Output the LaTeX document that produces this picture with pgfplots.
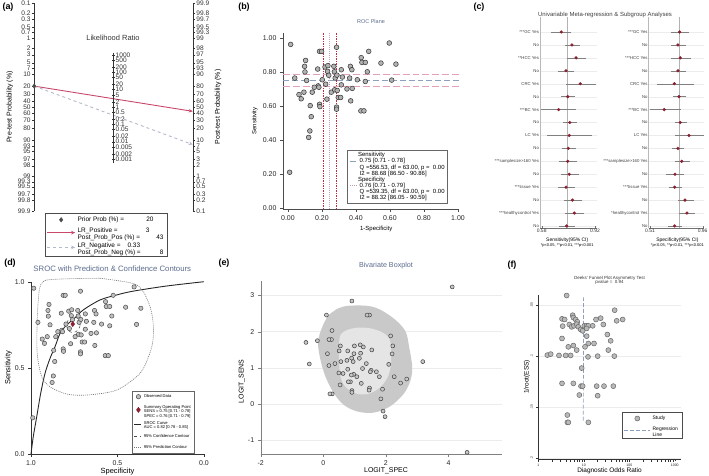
\documentclass[border=0pt]{standalone}
\usepackage{fontspec}
\setmainfont{Liberation Sans}
\usepackage{pgfplots}
\pgfplotsset{compat=1.18}
\usepackage{pgfplotstable}
\usetikzlibrary{arrows.meta}
\newcommand\fs[1]{\fontsize{#1}{#1}\selectfont}
\definecolor{roccol}{HTML}{5B6B8C}
\definecolor{lrpos}{HTML}{C8486A}
\definecolor{lrneg}{HTML}{B4B9CA}
\definecolor{dred}{HTML}{8B1E2E}
\definecolor{sensln}{HTML}{8CA0C0}
\definecolor{pinkln}{HTML}{E4A0B8}
\definecolor{redln}{HTML}{C8283C}
\definecolor{specln}{HTML}{C4A0B8}
\pgfplotsset{
  every axis/.append style={scale only axis, anchor=south west, /pgf/number format/assume math mode=true},
  shortline/.style={legend image code/.code={\draw[##1] (0bp,0bp) -- (#1,0bp);}},
  markat/.style={legend image code/.code={\draw[##1] plot coordinates {(#1,0bp)};}},
}
\pgfplotstableread{
u s
0.016 0.962
0.010 0.210
0.040 0.764
0.065 0.667
0.078 0.642
0.104 0.868
0.098 0.833
0.100 0.800
0.110 0.750
0.094 0.681
0.131 0.602
0.137 0.537
0.129 0.453
0.122 0.415
0.143 0.681
0.175 0.817
0.178 0.718
0.182 0.710
0.186 0.921
0.198 0.921
0.186 0.610
0.188 0.596
0.202 0.754
0.218 0.829
0.235 0.837
0.233 0.803
0.222 0.728
0.229 0.640
0.255 0.681
0.270 0.833
0.273 0.801
0.278 0.764
0.286 0.945
0.288 0.781
0.275 0.695
0.290 0.691
0.296 0.650
0.310 0.650
0.286 0.593
0.286 0.581
0.314 0.813
0.314 0.724
0.347 0.700
0.363 0.764
0.367 0.833
0.376 0.813
0.378 0.703
0.369 0.630
0.408 0.754
0.429 0.571
0.447 0.571
0.431 0.884
0.435 0.856
0.455 0.856
0.475 0.921
0.467 0.801
0.455 0.744
0.547 0.852
0.596 0.970
0.610 0.752
0.635 0.846
0.155 0.710
0.320 0.770
0.240 0.780
}\studies
\pgfplotstableread{
r e lo hi
0 0.705 0.650 0.761
-1 0.773 0.739 0.818
-2 0.799 0.750 0.856
-3 0.735 0.693 0.778
-4 0.826 0.744 0.916
-5 0.746 0.712 0.782
-6 0.688 0.586 0.793
-7 0.759 0.727 0.797
-8 0.756 0.623 0.890
-9 0.750 0.718 0.793
-10 0.746 0.697 0.797
-11 0.756 0.712 0.807
-12 0.735 0.693 0.782
-13 0.776 0.729 0.831
-14 0.788 0.735 0.844
-15 0.739 0.697 0.784
}\forestsens
\pgfplotstableread{
r e lo hi
0 0.763 0.701 0.832
-1 0.749 0.701 0.806
-2 0.769 0.698 0.846
-3 0.749 0.704 0.803
-4 0.718 0.578 0.872
-5 0.758 0.718 0.806
-6 0.632 0.519 0.761
-7 0.769 0.732 0.815
-8 0.843 0.735 0.960
-9 0.749 0.709 0.792
-10 0.781 0.732 0.838
-11 0.724 0.661 0.786
-12 0.721 0.681 0.769
-13 0.809 0.761 0.872
-14 0.826 0.772 0.883
-15 0.721 0.675 0.769
}\forestspec
\pgfplotstableread{
dor y
4.20 0.0405
1.58 0.0989
1.87 0.0979
2.85 0.0992
4.00 0.0992
5.14 0.0992
3.32 0.0634
3.80 0.0640
5.69 0.0598
5.89 0.0621
6.63 0.0640
7.21 0.0663
3.43 0.0705
4.81 0.0689
5.41 0.0712
6.09 0.0702
6.97 0.0686
7.58 0.0712
8.54 0.0738
9.44 0.0751
10.27 0.0702
11.56 0.0702
12.58 0.0702
15.67 0.0702
18.54 0.0640
23.48 0.0627
26.87 0.0689
47.7 0.0549
52.8 0.0653
71.5 0.0640
11.56 0.0728
11.56 0.0803
12.58 0.0875
10.63 0.0908
12.37 0.1006
16.76 0.0875
20.17 0.0999
32.9 0.0787
38.95 0.0849
34.6 0.0940
46.9 0.0999
3.32 0.0826
4.57 0.0908
5.89 0.0895
6.97 0.0940
8.98 0.1116
3.32 0.1266
5.89 0.1266
8.68 0.1293
9.44 0.1293
19.18 0.1293
27.8 0.1293
44.6 0.1293
7.97 0.1380
20.17 0.1387
4.35 0.1576
4.35 0.1648
4.57 0.1648
12.58 0.1648
}\deeks
\begin{document}
\begin{tikzpicture}
\useasboundingbox (0bp,0bp) rectangle (709bp,476bp);
% ---------------- panel labels
\node[font=\bfseries\fs{9}] at (8bp,469bp) {(a)};
\node[font=\bfseries\fs{9}] at (244bp,469bp) {(b)};
\node[font=\bfseries\fs{9}] at (479bp,469bp) {(c)};
\node[font=\bfseries\fs{9}] at (10bp,213bp) {(d)};
\node[font=\bfseries\fs{9}] at (224bp,213bp) {(e)};
\node[font=\bfseries\fs{9}] at (512bp,211bp) {(f)};
% ---------------- (a) Fagan nomogram
\begin{axis}[at={(34.3bp,265bp)}, width=158.4bp, height=208bp,
  xmin=0, xmax=1, ymin=-6.9068, ymax=6.9068, y dir=reverse, clip=false,
  axis x line=none, axis y line*=left, ytick pos=left, tick align=outside,
  major tick length=2.5bp, tick style={black!80}, axis line style={black!80},
  ytick={-6.9068,-6.2126,-5.8061,-5.2933,-4.9548,-4.5951,-3.8918,-3.4761,-2.9444,-2.5867,-2.1972,-1.3863,-0.8473,-0.4055,0,0.4055,0.8473,1.3863,2.1972,2.5867,2.9444,3.4761,3.8918,4.5951,4.9548,5.2933,5.8061,6.2126,6.9068},
  yticklabels={0.1,0.2,0.3,0.5,0.7,1,2,3,5,7,10,20,30,40,50,60,70,80,90,93,95,97,98,99,99.3,99.5,99.7,99.8,99.9},
  yticklabel style={font=\fs{6.6}, inner sep=1bp, black!80},
  ylabel={Pre-test Probability (\%)}, ylabel style={font=\fs{7}, at={(axis description cs:-0.155,0.5)}, anchor=center},
  legend style={at={(0.0676,-0.0096)}, anchor=north west, font=\fontsize{6.5}{7}\selectfont, draw=black!70, inner sep=1.5bp, row sep=0.8bp},
  legend cell align=left]
\addplot[only marks, mark=diamond*, mark size=2.3, color=black!70, markat=14bp] coordinates {(0,-1.3863)};
\addlegendentry{\makebox[64bp][l]{Prior Prob (\%) =}\makebox[12bp][r]{20}}
\addplot[lrpos, line width=0.9, -{Stealth[length=4bp,width=3.5bp]}, shortline=28bp] coordinates {(0,-1.3863) (1,0.2877)};
\addlegendentry{\begin{tabular}{@{}l@{}}\makebox[64bp][l]{LR\_Positive =}\makebox[8bp][r]{3}\\\makebox[76bp][l]{Post\_Prob\_Pos (\%) =}\makebox[10bp][r]{43}\end{tabular}}
\addplot[lrneg, dashed, line width=0.9, -{Stealth[length=4bp,width=3.5bp]}, shortline=28bp] coordinates {(0,-1.3863) (1,2.4950)};
\addlegendentry{\begin{tabular}{@{}l@{}}\makebox[50bp][l]{LR\_Negative =}0.33\\\makebox[76bp][l]{Post\_Prob\_Neg (\%) =}\makebox[10bp][r]{8}\end{tabular}}
\end{axis}
\begin{axis}[at={(34.3bp,265bp)}, width=158.4bp, height=208bp,
  xmin=0, xmax=1, ymin=-6.9068, ymax=6.9068, y dir=reverse,
  axis x line=none, axis y line*=right, ytick pos=right, yticklabel pos=right, tick align=outside,
  major tick length=2.5bp, tick style={black!80}, axis line style={black!80},
  ytick={-6.9068,-6.2126,-5.8061,-5.2933,-4.9548,-4.5951,-3.8918,-3.4761,-2.9444,-2.5867,-2.1972,-1.3863,-0.8473,-0.4055,0,0.4055,0.8473,1.3863,2.1972,2.5867,2.9444,3.4761,3.8918,4.5951,4.9548,5.2933,5.8061,6.2126,6.9068},
  yticklabels={99.9,99.8,99.7,99.5,99.3,99,98,97,95,93,90,80,70,60,50,40,30,20,10,7,5,3,2,1,0.7,0.5,0.3,0.2,0.1},
  yticklabel style={font=\fs{6.6}, inner sep=1bp, black!80},
  ylabel={Post-test Probability (\%)}, ylabel style={font=\fs{7}, at={(axis description cs:1.16,0.5)}, anchor=center}]
\end{axis}
\begin{axis}[at={(112.5bp,313bp)}, width=1bp, height=110bp,
  xmin=0, xmax=1, ymin=-3.58, ymax=3.72, y dir=reverse,
  axis x line=none, axis y line*=right, ytick pos=right, yticklabel pos=right, tick align=center,
  major tick length=3bp, tick style={black!80}, axis line style={black!80},
  ytick={-3.4539,-3.1073,-2.6492,-2.3026,-1.9560,-1.4979,-1.1513,-0.8047,-0.3466,0,0.3466,0.8047,1.1513,1.4979,1.9560,2.3026,2.6492,3.1073,3.4539},
  yticklabels={1000,500,200,100,50,20,10,5,2,1,0.5,0.2,0.1,0.05,0.02,0.01,0.005,0.002,0.001},
  yticklabel style={font=\fs{6.6}, inner sep=0.5bp, black!80},
  title={Likelihood Ratio}, title style={font=\fs{7.5}, black!80, at={(axis description cs:0.5,1)}, anchor=south, yshift=3bp}]
\end{axis}
% ---------------- (b) ROC plane
\begin{axis}[at={(283bp,267bp)}, width=176bp, height=176bp,
  xmin=-0.029, xmax=1.006, ymin=-0.006, ymax=1.029,
  axis x line*=bottom, axis y line*=left, tick pos=left, tick align=outside,
  major tick length=3bp, axis line style={black!70}, tick style={black!70},
  xtick={0,0.2,0.4,0.6,0.8,1}, ytick={0,0.2,0.4,0.6,0.8,1},
  tick label style={font=\fs{7}, black!85, /pgf/number format/fixed, /pgf/number format/fixed zerofill, /pgf/number format/precision=2},
  xlabel={1-Specificity}, xlabel style={font=\fs{6}, at={(axis description cs:0.53,-0.115)}, anchor=center},
  ylabel={Sensitivity}, ylabel style={font=\fs{6}, at={(axis description cs:-0.16,0.5)}, anchor=center},
  title={ROC Plane}, title style={font=\fs{5.5}, roccol, at={(axis description cs:0.5,1)}, anchor=south, yshift=0bp},
  legend style={at={(0.364,0.335)}, anchor=north west, font=\fontsize{6}{6.6}\selectfont, draw=black!60, inner xsep=2bp, inner ysep=2bp, row sep=0bp, nodes={inner ysep=0bp, inner xsep=1bp}},
  legend cell align=left]
\addplot[redln, line width=0.9, dash pattern=on 1.5pt off 1pt, forget plot] coordinates {(0.21,-0.006) (0.21,1.029)};
\addplot[redln, line width=0.9, dash pattern=on 1.5pt off 1pt, forget plot] coordinates {(0.285,-0.006) (0.285,1.029)};
\addplot[pinkln, line width=1, dash pattern=on 7pt off 3pt, forget plot] coordinates {(-0.029,0.714) (1.006,0.714)};
\addplot[pinkln, line width=1, dash pattern=on 7pt off 3pt, forget plot] coordinates {(-0.029,0.785) (1.006,0.785)};
\addlegendimage{empty legend}
\addlegendentry{\strut Sensitivity}
\addplot[sensln, line width=0.8, dash pattern=on 6pt off 3pt, shortline=7bp] coordinates {(-0.029,0.752) (1.006,0.752)};
\addlegendentry{\strut\ 0.75 [0.71 - 0.78]}
\addlegendimage{empty legend}
\addlegendentry{\strut\ Q =556.53, df = 63.00, p =\ \ 0.00}
\addlegendimage{empty legend}
\addlegendentry{\strut\ I2 = 88.68 [86.50 - 90.86]}
\addlegendimage{empty legend}
\addlegendentry{\strut Specificity}
\addplot[specln, line width=0.8, dash pattern=on 1pt off 1pt, shortline=7bp] coordinates {(0.241,-0.006) (0.241,1.029)};
\addlegendentry{\strut\ 0.76 [0.71 - 0.79]}
\addlegendimage{empty legend}
\addlegendentry{\strut\ Q =539.35, df = 63.00, p =\ \ 0.00}
\addlegendimage{empty legend}
\addlegendentry{\strut\ I2 = 88.32 [86.05 - 90.59]}
\addplot[only marks, mark=*, mark size=2.4, mark options={fill=gray!60, draw=black!80, line width=0.5}, forget plot] table[x=u,y=s]{\studies};
\end{axis}
% ---------------- (c) forest plots
\node[font=\fs{6}, black!75] at (605bp,461bp) {Univariable Meta-regression \& Subgroup Analyses};
\begin{axis}[at={(540.1bp,247.7bp)}, width=56.5bp, height=211.3bp,
  xmin=0.57, xmax=0.93, ymin=-15.18, ymax=1.16,
  axis x line*=bottom, axis y line*=left, xtick pos=bottom,
  y axis line style={gray!55, line width=1.2}, x axis line style={black!55, line width=0.4},
  xtick={0.58,0.92}, xticklabels={0.58,0.92}, xtick style={black!55}, major tick length=2bp,
  xticklabel style={font=\fs{5}, black!80, inner sep=1bp},
  ytick={0,-1,-2,-3,-4,-5,-6,-7,-8,-9,-10,-11,-12,-13,-14,-15},
  yticklabels={***GC Yes,No,**HCC Yes,No,CRC Yes,No,***BC Yes,No,LC Yes,No,***samplesize>160 Yes,No,***tissue Yes,No,***healthycontrol Yes,No},
  yticklabel style={font=\fs{4.3}, black!75, inner sep=1bp}, ytick style={draw=none},
  ymajorgrids, grid style={gray!15, line width=0.3},
  xlabel={{\fs{5}Sensitivity(95\% CI)}\\[0.5bp]*p<0.05, **p<0.01, ***p<0.001},
  xlabel style={font=\fs{4}, align=center, at={(axis description cs:0.48,0)}, anchor=north, yshift=-6.5bp}]
\addplot[gray!60, line width=1.2] coordinates {(0.746,-15.18) (0.746,1.16)};
\addplot[only marks, mark=*, mark size=1.4, color=dred,
  error bars/.cd, x dir=both, x explicit, error bar style={gray, line width=0.4}, error mark options={gray, mark size=1.3, line width=0.4}]
  table[x=e, y=r, x error plus expr=\thisrow{hi}-\thisrow{e}, x error minus expr=\thisrow{e}-\thisrow{lo}]{\forestsens};
\end{axis}
\begin{axis}[at={(648.8bp,247.7bp)}, width=55bp, height=211.3bp,
  xmin=0.50, xmax=0.97, ymin=-15.18, ymax=1.16,
  axis x line*=bottom, axis y line*=left, xtick pos=bottom,
  y axis line style={gray!55, line width=1.2}, x axis line style={black!55, line width=0.4},
  xtick={0.51,0.96}, xticklabels={0.51,0.96}, xtick style={black!55}, major tick length=2bp,
  xticklabel style={font=\fs{5}, black!80, inner sep=1bp},
  ytick={0,-1,-2,-3,-4,-5,-6,-7,-8,-9,-10,-11,-12,-13,-14,-15},
  yticklabels={***GC Yes,No,***HCC Yes,No,CRC Yes,No,***BC Yes,No,LC Yes,No,***samplesize>160 Yes,No,***tissue Yes,No,*healthycontrol Yes,No},
  yticklabel style={font=\fs{4.3}, black!75, inner sep=1bp}, ytick style={draw=none},
  ymajorgrids, grid style={gray!15, line width=0.3},
  xlabel={{\fs{5}Specificity(95\% CI)}\\[0.5bp]*p<0.05, **p<0.01, ***p<0.001},
  xlabel style={font=\fs{4}, align=center, at={(axis description cs:0.52,0)}, anchor=north, yshift=-6.5bp}]
\addplot[gray!60, line width=1.2] coordinates {(0.76,-15.18) (0.76,1.16)};
\addplot[only marks, mark=*, mark size=1.4, color=dred,
  error bars/.cd, x dir=both, x explicit, error bar style={gray, line width=0.4}, error mark options={gray, mark size=1.3, line width=0.4}]
  table[x=e, y=r, x error plus expr=\thisrow{hi}-\thisrow{e}, x error minus expr=\thisrow{e}-\thisrow{lo}]{\forestspec};
\end{axis}
% ---------------- (d) SROC
\begin{axis}[at={(31bp,22bp)}, width=173bp, height=172.3bp,
  xmin=0, xmax=1, ymin=0, ymax=1, clip=false,
  axis x line*=bottom, axis y line*=left, tick pos=left, tick align=outside,
  major tick length=3bp, axis line style={black!80}, tick style={black!80},
  xtick={0,0.5,1}, xticklabels={1.0,0.5,0.0}, ytick={0,0.5,1}, yticklabels={0.0,0.5,1.0},
  tick label style={font=\fs{7}, black!85},
  xlabel={Specificity}, xlabel style={font=\fs{7.5}, at={(axis description cs:0.5,-0.1)}, anchor=center},
  ylabel={Sensitivity}, ylabel style={font=\fs{7.5}, at={(axis description cs:-0.13,0.5)}, anchor=center},
  title={SROC with Prediction \& Confidence Contours}, title style={font=\fs{7.8}, roccol, at={(axis description cs:0.47,1)}, anchor=south, yshift=1bp},
  legend style={at={(0.5855,0.367)}, anchor=north west, font=\fontsize{4.1}{4.6}\selectfont, draw=black!60, inner xsep=1.5bp, inner ysep=1.5bp, row sep=2.2bp},
  legend cell align=left]
\addplot[only marks, mark=*, mark size=2.2, mark options={fill=gray!50, draw=black!70, line width=0.5}, markat=4bp] table[x=u,y=s]{\studies};
\addlegendentry{Observed Data}
\addplot[only marks, mark=diamond*, mark size=2.6, color=dred, markat=4bp] coordinates {(0.241,0.754)};
\addlegendentry{\begin{tabular}{@{}l@{}}Summary Operating Point\\SENS = 0.75 [0.71 - 0.78]\\SPEC = 0.76 [0.71 - 0.79]\end{tabular}}
\addplot[black!85, line width=0.9, smooth, shortline=7bp] coordinates {(0,0) (0.013,0.10) (0.033,0.216) (0.056,0.352) (0.081,0.468) (0.11,0.555) (0.139,0.623) (0.168,0.70) (0.206,0.749) (0.245,0.782) (0.302,0.836) (0.399,0.894) (0.495,0.923) (0.59,0.945) (0.784,0.975) (1.0,1.0)};
\addlegendentry{\begin{tabular}{@{}l@{}}SROC Curve\\AUC = 0.82 [0.78 - 0.85]\end{tabular}}
\addplot[black!70, line width=0.5, dashed, smooth, shortline=7bp] coordinates {(0.285,0.75) (0.273,0.785) (0.245,0.795) (0.217,0.78) (0.205,0.75) (0.217,0.715) (0.245,0.705) (0.273,0.72) (0.285,0.75)};
\addlegendentry{95\% Confidence Contour}
\addplot[black!55, line width=0.6, dash pattern=on 1pt off 1pt, smooth, shortline=7bp] coordinates {(0.399,1.02) (0.59,0.99) (0.649,0.942) (0.69,0.85) (0.707,0.75) (0.705,0.66) (0.685,0.58) (0.63,0.468) (0.495,0.371) (0.322,0.342) (0.206,0.348) (0.11,0.39) (0.062,0.449) (0.036,0.584) (0.036,0.778) (0.048,0.952) (0.07,1.0) (0.11,1.012) (0.25,1.018) (0.399,1.02)};
\addlegendentry{95\% Prediction Contour}
\end{axis}
% ---------------- (e) bivariate boxplot
\begin{axis}[at={(260.7bp,22bp)}, width=241bp, height=173.2bp,
  xmin=-2, xmax=5.7, ymin=-1.37, ymax=3.4,
  axis x line*=bottom, axis y line*=left, tick pos=left, tick align=outside,
  major tick length=3bp, axis line style={gray}, tick style={gray},
  xtick={-2,0,2,4}, ytick={-1,0,1,2,3},
  tick label style={font=\fs{7}, black!85},
  ymajorgrids, grid style={gray!15, line width=0.4},
  xlabel={LOGIT\_SPEC}, xlabel style={font=\fs{7}, at={(axis description cs:0.52,-0.095)}, anchor=center},
  ylabel={LOGIT\_SENS}, ylabel style={font=\fs{7}, at={(axis description cs:-0.078,0.42)}, anchor=center},
  title={Bivariate Boxplot}, title style={font=\fs{7.2}, roccol, at={(axis description cs:0.52,1)}, anchor=south, yshift=2bp}]
\addplot[fill=gray!42, draw=none, smooth, tension=0.55] coordinates {(0.45,2.63) (0.77,2.71) (1.41,2.71) (1.83,2.6) (2.31,2.32) (2.63,2.0) (2.74,1.59) (2.84,1.04) (2.79,0.67) (2.58,0.30) (2.15,-0.05) (1.62,-0.23) (1.09,-0.2) (0.66,-0.02) (0.34,0.30) (0.07,0.76) (-0.09,1.22) (-0.17,1.68) (-0.09,2.0) (0.02,2.23) (0.18,2.46) (0.45,2.63)} -- cycle;
\addplot[fill=gray!20, draw=none, smooth, tension=0.55] coordinates {(0.77,2.05) (1.09,2.11) (1.51,2.09) (1.88,1.98) (2.1,1.82) (2.17,1.5) (2.15,1.04) (2.04,0.72) (1.78,0.44) (1.41,0.28) (1.03,0.30) (0.71,0.48) (0.55,0.76) (0.50,1.22) (0.50,1.59) (0.55,1.91) (0.77,2.05)} -- cycle;
\addplot[only marks, mark=*, mark size=2.0, mark options={fill=gray!45, draw=black!75, line width=0.5}] table[x expr={ln((1-\thisrow{u})/\thisrow{u})}, y expr={ln(\thisrow{s}/(1-\thisrow{s}))}]{\studies};
\end{axis}
% ---------------- (f) Deeks funnel
\begin{axis}[at={(538.3bp,17bp)}, width=142.4bp, height=164bp,
  xmode=log, xmin=1, xmax=1349, ymin=0.04, ymax=0.2007, y dir=reverse,
  axis x line*=bottom, axis y line*=left, tick pos=left, tick align=outside,
  major tick length=2bp, axis line style={black!80}, tick style={black!80},
  xtick={1,10,100,1000}, xticklabels={1,10,100,1000}, minor xtick={},
  ytick={0.05,0.1,0.15,0.2}, yticklabels={.05,.1,.15,.2},
  tick label style={font=\fs{3.5}, black!85},
  yticklabel style={rotate=90, anchor=south},
  ymajorgrids, grid style={gray!15, line width=0.4},
  xlabel={Diagnostic Odds Ratio}, xlabel style={font=\fs{6.5}, at={(axis description cs:0.5,-0.07)}, anchor=center},
  ylabel={1/root(ESS)}, ylabel style={font=\fs{6.5}, at={(axis description cs:-0.08,0.5)}, anchor=center},
  title={Deeks' Funnel Plot Asymmetry Test\\pvalue =\ \ 0.94}, title style={font=\fs{4.5}, align=center, black!80, at={(axis description cs:0.5,1)}, anchor=south, yshift=1bp},
  legend style={at={(0.586,0.285)}, anchor=north west, font=\fontsize{5}{5.6}\selectfont, draw=black!70, inner xsep=2bp, inner ysep=1.5bp, row sep=1.5bp},
  legend cell align=left]
\addplot[only marks, mark=*, mark size=2.5, mark options={fill=gray!55, draw=black!60, line width=0.5}, markat=13bp] table[x=dor,y=y]{\deeks};
\addlegendentry{Study}
\addplot[sensln, line width=0.7, dash pattern=on 4pt off 2pt, shortline=26bp] coordinates {(9.9,0.042) (9.75,0.164)};
\addlegendentry{\begin{tabular}{@{}l@{}}Regression\\Line\end{tabular}}
\end{axis}
\end{tikzpicture}
\end{document}
